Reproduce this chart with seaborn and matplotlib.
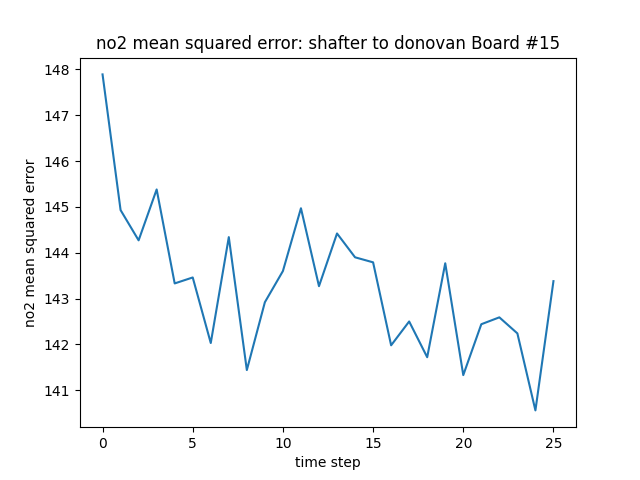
import matplotlib
matplotlib.use("Agg")
import matplotlib.pyplot as plt
import seaborn as sns

time_step = list(range(26))
mse = [147.89, 144.93, 144.27, 145.38, 143.33, 143.46, 142.03, 144.34, 141.44, 142.92,
       143.60, 144.97, 143.27, 144.42, 143.90, 143.79, 141.98, 142.50, 141.72, 143.77,
       141.33, 142.44, 142.59, 142.24, 140.56, 143.38]

fig, ax = plt.subplots(figsize=(6.4, 4.8), dpi=100)
sns.lineplot(x=time_step, y=mse, ax=ax, color="#1f77b4")
ax.set_xlabel("time step")
ax.set_ylabel("no2 mean squared error")
ax.set_title("no2 mean squared error: shafter to donovan Board #15")
plt.savefig("out.png")
